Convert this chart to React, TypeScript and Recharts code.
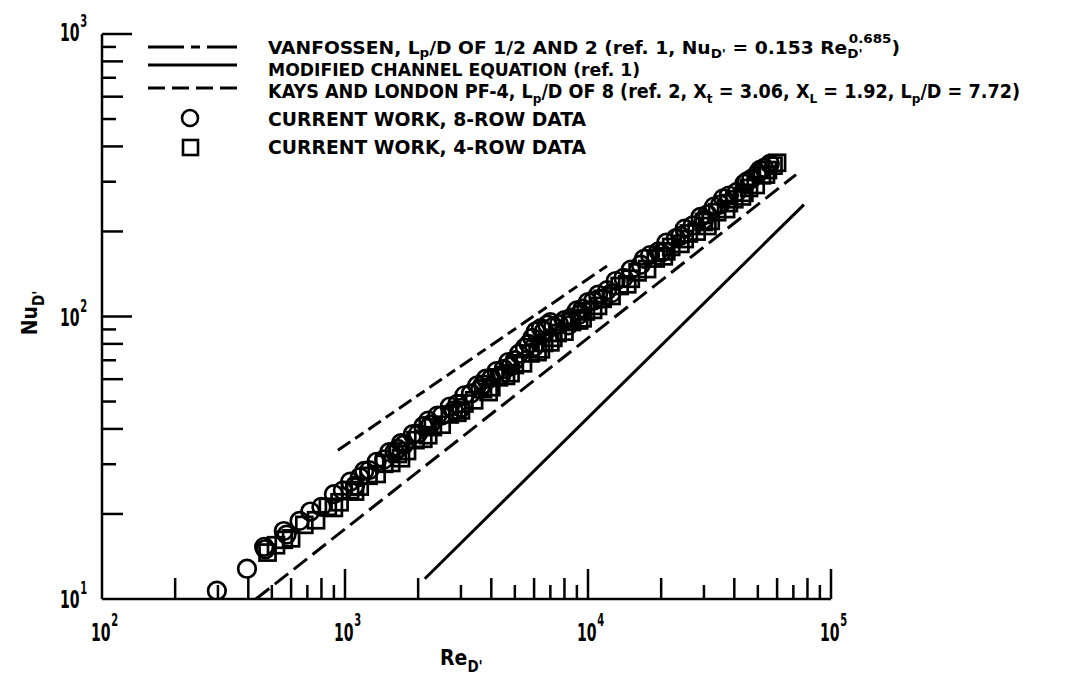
import React from 'react';
import { ScatterChart, Scatter, XAxis, YAxis } from 'recharts';

const FONT = '"DejaVu Sans Condensed", "Liberation Sans Narrow", "DejaVu Sans", sans-serif';

// tick values (log axes)
const xTicks = [
  100, 200, 300, 400, 500, 600, 700, 800, 900,
  1000, 2000, 3000, 4000, 5000, 6000, 7000, 8000, 9000,
  10000, 20000, 30000, 40000, 50000, 60000, 70000, 80000, 90000, 100000,
];
const yTicks = [
  10, 20, 30, 40, 50, 60, 70, 80, 90,
  100, 200, 300, 400, 500, 600, 700, 800, 900, 1000,
];

// Current work, 8-row data (circles)
const eightRowRe = [
  297, 395, 465, 470, 560, 575, 650, 720, 800, 900, 980, 1050, 1150, 1200, 1260, 1350, 1450, 1520,
  1600, 1700, 1750, 1900, 2000, 2100, 2250, 2400, 2500, 2700, 2900, 3000, 3100, 3300, 3500, 3700,
  3800, 4000, 4200, 4400, 4500, 4700, 5000, 5200, 5500, 5700, 5900, 6000, 6100, 6400, 6800, 7200,
  7600, 8000, 8300, 8500, 9000, 9500, 10000, 10500, 11000, 12000, 12500, 13000, 14000, 15000,
  16500, 18000, 19500, 20000, 21000, 23000, 25000, 27000, 29000, 30000, 31000, 33000, 35000,
  38000, 41000, 44000, 47000, 50000, 53000, 56000,
  1100, 1650, 2200, 2800, 3600, 4800, 6600, 7000, 9200, 11500, 17000, 24000, 36000, 45000, 51000,
];
const eightRowNu = [
  10.7, 12.8, 15.3, 15.0, 17.4, 16.9, 18.9, 20.4, 21.2, 23.5, 24.2, 26.0, 27.0, 28.4, 28.6, 30.6, 31.2, 33.1,
  33.2, 35.6, 35.2, 38.3, 38.5, 40.9, 41.5, 44.6, 44.6, 48.0, 49.0, 47.5, 52.6, 53.4, 57.0, 57.5,
  60.2, 60.5, 64.0, 62.0, 65.2, 69.0, 70.0, 73.8, 77.5, 80.0, 84.0, 78.0, 88.5, 91.0, 93.5, 92.0,
  94.0, 97.0, 93.0, 99.0, 105.0, 106.5, 112.5, 113.5, 119.5, 124.0, 121.0, 133.5, 137.0, 146.5,
  152.5, 165.0, 170.0, 168.0, 182.5, 189.5, 204.5, 210.0, 225.0, 220.0, 230.0, 245.0, 249.0,
  268.0, 276.0, 295.0, 307.0, 322.0, 336.0, 347.0,
  25.2, 34.0, 42.8, 46.5, 55.5, 66.5, 89.0, 95.5, 101.5, 116.0, 160.0, 193.0, 262.0, 300.0, 330.0,
];

// Current work, 4-row data (squares)
const fourRowRe = [
  480, 560, 600, 680, 760, 850, 950, 1050, 1150, 1250, 1350, 1450, 1550, 1650, 1800, 1950, 2100,
  2300, 2500, 2700, 2900, 3100, 3400, 3700, 4000, 4300, 4600, 5000, 5400, 5800, 6200, 6600, 7000,
  7500, 8000, 8600, 9200, 9800, 10500, 11500, 12500, 13500, 14500, 16000, 17500, 19000, 20500,
  22000, 24000, 26000, 28000, 30000, 32000, 34000, 37000, 40000, 43000, 46000, 49000, 52000,
  55000, 58000, 60000,
  520, 900, 1100, 1700, 2200, 3000, 3900, 4800, 6400, 7200, 9500, 11000, 15000, 21000, 25000,
  31000, 38000, 44000, 54000,
];
const fourRowNu = [
  14.6, 16.2, 16.4, 18.3, 19.0, 21.2, 22.0, 24.3, 25.0, 27.3, 27.7, 30.1, 30.3, 32.6, 33.4, 36.5, 36.9,
  40.6, 41.4, 45.0, 45.6, 49.2, 50.5, 55.3, 56.2, 60.9, 61.6, 67.3, 68.3, 74.0, 74.8, 80.6, 81.0,
  87.4, 88.4, 95.6, 96.8, 104.2, 105.5, 115.5, 118.2, 128.2, 130.0, 143.3, 147.2, 160.4, 163.3,
  176.3, 180.7, 196.7, 199.8, 216.0, 218.0, 234.0, 240.0, 260.0, 266.0, 285.0, 292.0, 316.0,
  330.0, 342.0, 350.0,
  15.5, 21.0, 24.0, 31.5, 38.0, 46.5, 54.0, 63.0, 76.5, 84.0, 98.5, 109.0, 136.0, 170.0, 188.0,
  209.0, 252.0, 274.0, 318.0,
];

// Reference correlations (end points of drawn lines)
const vanfossenRe = [935, 11970];
const vanfossenNu = [33.6, 151];
const channelRe = [2130, 77400];
const channelNu = [11.8, 249];
const kaysRe = [430, 71800];
const kaysNu = [10, 318];

const zip = (xs: number[], ys: number[]) => xs.map((x, i) => ({ x, y: ys[i] }));
const eightRow = zip(eightRowRe, eightRowNu);
const fourRow = zip(fourRowRe, fourRowNu);
const vanfossen = zip(vanfossenRe, vanfossenNu);
const channel = zip(channelRe, channelNu);
const kays = zip(kaysRe, kaysNu);

const W = 1063;
const H = 665;

const tickLen = (v: number) => {
  const lg = Math.log10(v);
  const e = Math.round(lg);
  if (Math.abs(lg - e) < 1e-6) return { major: true, len: 30, e };
  const m = Math.round(v / Math.pow(10, Math.floor(lg)));
  return { major: false, len: m % 2 === 0 ? 21 : 14, e };
};

// power-of-ten label, horizontally condensed
const Pow10 = ({ x, y, e, sup }: { x: number; y: number; e: number; sup: number }) => (
  <g transform={`translate(${x},${y}) scale(0.65,1)`}>
    <text x={0} y={0} fontFamily={FONT} fontWeight="bold" fill="#000" fontSize={24}>
      10
      <tspan dx={1} dy={sup} fontSize={17}>{String(e)}</tspan>
    </text>
  </g>
);

const XTick = (props: any) => {
  const { x, y, payload } = props;
  const v = payload.value;
  const t = tickLen(v);
  return (
    <g>
      {v !== 100 && (
        <line x1={x} x2={x} y1={y} y2={y - t.len} stroke="#000" strokeWidth={2.5} />
      )}
      {t.major && <Pow10 x={x - 10.9} y={y + 42} e={t.e} sup={-15} />}
    </g>
  );
};

const YTick = (props: any) => {
  const { x, y, payload } = props;
  const v = payload.value;
  const t = tickLen(v);
  const up = v === 1000 ? 2 : 0;
  return (
    <g>
      {v !== 10 && (
        <line x1={x} x2={x + t.len} y1={y} y2={y} stroke="#000" strokeWidth={2.5} />
      )}
      {t.major && <Pow10 x={x - 42} y={y + 9 - up} e={t.e} sup={-14} />}
    </g>
  );
};

const CircleShape = (p: any) => (
  <circle cx={p.cx} cy={p.cy} r={8.8} fill="none" stroke="#000" strokeWidth={2.7} />
);
const SquareShape = (p: any) => (
  <rect x={p.cx - 8} y={p.cy - 8} width={16} height={16} fill="none" stroke="#000" strokeWidth={2.7} />
);
const NoShape = () => <g />;

const SUB = 13;

const Overlay = () => (
  <svg
    width={W}
    height={H + 10}
    style={{ position: 'absolute', left: 0, top: 0, overflow: 'visible', pointerEvents: 'none' }}
  >
    <g stroke="#000" strokeWidth={3} fill="none">
      <line x1={140} x2={229} y1={39} y2={39} strokeDasharray="36 7 9 7 40" />
      <line x1={140} x2={229} y1={57} y2={57} />
      <line x1={140} x2={229} y1={80} y2={80} strokeDasharray="17 7" />
      <circle cx={182} cy={110} r={8} strokeWidth={2.6} />
      <rect x={175} y={132} width={15} height={15} strokeWidth={2.6} />
    </g>
    <g fontFamily={FONT} fontWeight="bold" fill="#000" fontSize={19}>
      <text x={260} y={46} fontSize={18} textLength={632} lengthAdjust="spacingAndGlyphs">
        {'VANFOSSEN, L'}
        <tspan dy={3} fontSize={SUB}>p</tspan>
        <tspan dy={-3}>{'/D OF 1/2 AND 2 (ref. 1, Nu'}</tspan>
        <tspan dy={4} fontSize={SUB}>{"D'"}</tspan>
        <tspan dy={-4}>{' = 0.153 Re'}</tspan>
        <tspan dy={4} fontSize={SUB}>{"D'"}</tspan>
        <tspan dx={-12} dy={-15} fontSize={SUB}>0.685</tspan>
        <tspan dy={11}>)</tspan>
      </text>
      <text x={260} y={68} fontSize={18} textLength={372} lengthAdjust="spacingAndGlyphs">
        MODIFIED CHANNEL EQUATION (ref. 1)
      </text>
      <text x={260} y={90} textLength={752} lengthAdjust="spacingAndGlyphs">
        {'KAYS AND LONDON PF-4, L'}
        <tspan dy={5} fontSize={SUB}>p</tspan>
        <tspan dy={-5}>{'/D OF 8 (ref. 2, X'}</tspan>
        <tspan dy={5} fontSize={SUB}>t</tspan>
        <tspan dy={-5}>{' = 3.06, X'}</tspan>
        <tspan dy={5} fontSize={SUB}>L</tspan>
        <tspan dy={-5}>{' = 1.92, L'}</tspan>
        <tspan dy={5} fontSize={SUB}>p</tspan>
        <tspan dy={-5}>{'/D = 7.72)'}</tspan>
      </text>
      <text x={260} y={118} textLength={318} lengthAdjust="spacingAndGlyphs">
        CURRENT WORK, 8-ROW DATA
      </text>
      <text x={260} y={146} textLength={318} lengthAdjust="spacingAndGlyphs">
        CURRENT WORK, 4-ROW DATA
      </text>
      <text x={432} y={657} fontSize={21}>
        Re
        <tspan dy={7} fontSize={15}>{"D'"}</tspan>
      </text>
      <text transform="translate(29,305) rotate(-90)" textAnchor="middle" fontSize={21}>
        Nu
        <tspan dy={7} fontSize={15}>{"D'"}</tspan>
      </text>
    </g>
  </svg>
);

export default function App() {
  return (
    <div style={{ position: 'relative', width: W, height: H }}>
      <ScatterChart width={W} height={H} margin={{ top: 26, right: 240, bottom: 44, left: 64 }}>
        <XAxis
          type="number"
          dataKey="x"
          scale="log"
          domain={[100, 100000]}
          allowDataOverflow
          ticks={xTicks}
          interval={0}
          tickSize={0}
          tickMargin={0}
          tickLine={false}
          height={30}
          axisLine={{ stroke: '#000', strokeWidth: 2.5 }}
          tick={<XTick />}
        />
        <YAxis
          type="number"
          dataKey="y"
          scale="log"
          domain={[10, 1000]}
          allowDataOverflow
          ticks={yTicks}
          interval={0}
          tickSize={0}
          tickMargin={0}
          tickLine={false}
          width={30}
          axisLine={{ stroke: '#000', strokeWidth: 2.5 }}
          tick={<YTick />}
        />
        <Scatter
          data={vanfossen}
          line={{ stroke: '#000', strokeWidth: 3, strokeDasharray: '15 6 10 6' }}
          shape={<NoShape />}
          isAnimationActive={false}
        />
        <Scatter
          data={channel}
          line={{ stroke: '#000', strokeWidth: 3 }}
          shape={<NoShape />}
          isAnimationActive={false}
        />
        <Scatter
          data={kays}
          line={{ stroke: '#000', strokeWidth: 3, strokeDasharray: '17 7' }}
          shape={<NoShape />}
          isAnimationActive={false}
        />
        <Scatter data={fourRow} shape={<SquareShape />} isAnimationActive={false} />
        <Scatter data={eightRow} shape={<CircleShape />} isAnimationActive={false} />
      </ScatterChart>
      <Overlay />
    </div>
  );
}
